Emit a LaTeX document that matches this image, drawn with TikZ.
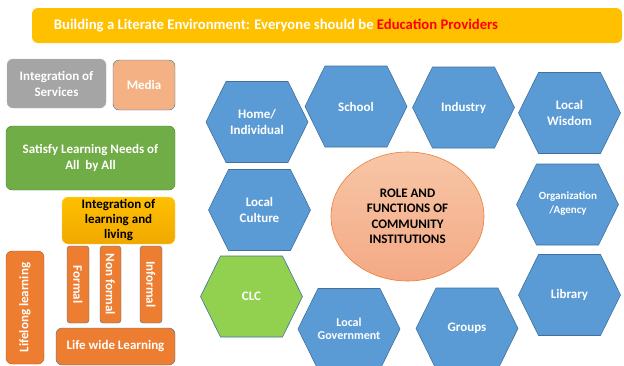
\documentclass[tikz,border=0pt]{standalone}
\usepackage{fontspec}
\setmainfont{Carlito}
\usetikzlibrary{shapes.geometric}
\definecolor{banner}{HTML}{FFC000}
\definecolor{hexfill}{HTML}{5B9BD5}
\definecolor{hexline}{HTML}{41719C}
\definecolor{grayfill}{HTML}{A5A5A5}
\definecolor{grayline}{HTML}{B4B4B4}
\definecolor{mediafill}{HTML}{F4B183}
\definecolor{greenfill}{HTML}{70AD47}
\definecolor{greenline}{HTML}{507E32}
\definecolor{orangefill}{HTML}{ED7D31}
\definecolor{orangeline}{HTML}{AE5A21}
\definecolor{clcfill}{HTML}{92D050}
\definecolor{elltop}{HTML}{F7C6A6}
\definecolor{ellbot}{HTML}{F4A985}
\definecolor{goldtop}{HTML}{FFC000}
\definecolor{goldbot}{HTML}{F0A800}
\definecolor{goldline}{HTML}{FFD966}
\tikzset{
  box/.style={rounded corners=6pt, inner sep=0pt, align=center, text=white,
    font=\bfseries\fontsize{13}{16}\selectfont},
  vtext/.style={text=white, font=\bfseries\fontsize{13}{15}\selectfont, inner sep=0pt},
  hexs/.style={draw=hexline, line width=0.6pt},
  hext/.style={align=center, text=white, inner sep=0pt, font=\bfseries\fontsize{13}{16}\selectfont},
}
\newcommand\hexa[5]{%
  \draw[hexs, fill=#4] (#2-51,#3) -- (#2-31,#3-40.5) -- (#2+31,#3-40.5) -- (#2+51,#3) -- (#2+31,#3+40.5) -- (#2-31,#3+40.5) -- cycle;
  \node[hext] (#1) at (#2,#3) {#5};}
\begin{document}
\begin{tikzpicture}[x=1pt,y=-1pt]
\useasboundingbox (0,0) rectangle (624,365);
% banner
\fill[banner, rounded corners=6pt] (32,8) rectangle (622,43);
\node[inner sep=0pt, text=white, font=\bfseries\fontsize{14.7}{16}\selectfont] (title) at (276,26)
  {Building a Literate Environment: Everyone should be \textcolor{red}{Education Providers}};
% left boxes
\node[box, fill=grayfill, draw=grayline, minimum width=99pt, minimum height=49pt] (serv) at (56.5,83.5) {Integration of\\Services};
\node[box, fill=mediafill, draw=hexline, minimum width=62pt, minimum height=50pt] (media) at (144,85) {Media};
\node[box, fill=greenfill, draw=greenline, minimum width=169pt, minimum height=64pt] (satisfy) at (90.5,158) {Satisfy Learning Needs of\\All\ \ by All};
\node[box, top color=goldtop, bottom color=goldbot, draw=goldline, text=black, minimum width=113pt, minimum height=47pt,
  font=\bfseries\fontsize{13}{15}\selectfont] (integ) at (118.5,220.5) {Integration of\\learning and\\living};
\node[box, fill=orangefill, draw=hexline, minimum width=22pt, minimum height=77pt, rounded corners=3pt] (formal) at (78,284.5) {};
\node[vtext, rotate=-90] (formalt) at (formal.center) {Formal};
\node[box, fill=orangefill, draw=hexline, minimum width=21pt, minimum height=77pt, rounded corners=3pt] (nonformal) at (110.5,284.5) {};
\node[vtext, rotate=-90] (nonformalt) at (nonformal.center) {Non formal};
\node[box, fill=orangefill, draw=hexline, minimum width=22pt, minimum height=77pt, rounded corners=3pt] (informal) at (151,284.5) {};
\node[vtext, rotate=-90] (informalt) at (informal.center) {Informal};
\node[box, fill=orangefill, draw=orangeline, minimum width=38pt, minimum height=113pt] (lifelong) at (25,307.5) {};
\node[vtext, rotate=90] (lifelongt) at (lifelong.center) {Lifelong learning};
\node[box, fill=orangefill, draw=hexline, minimum width=119pt, minimum height=37pt] (lifewide) at (115.5,346.5) {Life wide Learning};
% hexagons
\hexa{home}{257}{122}{hexfill}{Home/\\Individual}
\hexa{school}{356}{106.5}{hexfill}{School}
\hexa{industry}{463.5}{107.5}{hexfill}{Industry}
\hexa{wisdom}{569.5}{113}{hexfill}{Local\\Wisdom}
\hexa{culture}{259.5}{210}{hexfill}{Local\\Culture}
\hexa{org}{567.5}{204.5}{hexfill}{}
\node[hext, font=\bfseries\fontsize{11}{14}\selectfont] (orgt) at (568,204) {Organization\\/Agency};
\hexa{clc}{251.5}{296.5}{clcfill}{CLC}
\hexa{gov}{349}{329}{hexfill}{}
\node[hext, font=\bfseries\fontsize{12}{13.5}\selectfont] (govt) at (349,329) {Local\\Government};
\hexa{groups}{467}{328.5}{hexfill}{Groups}
\hexa{library}{569.5}{295}{hexfill}{Library}
% ellipse
\node[ellipse, draw=orangefill, line width=0.6pt, top color=elltop, bottom color=ellbot, minimum width=153pt, minimum height=129pt,
  align=center, font=\bfseries\fontsize{13}{15.5}\selectfont, inner sep=0pt] (role) at (407.5,216.5)
  {ROLE AND\\FUNCTIONS OF\\COMMUNITY\\INSTITUTIONS};
\end{tikzpicture}
\end{document}
